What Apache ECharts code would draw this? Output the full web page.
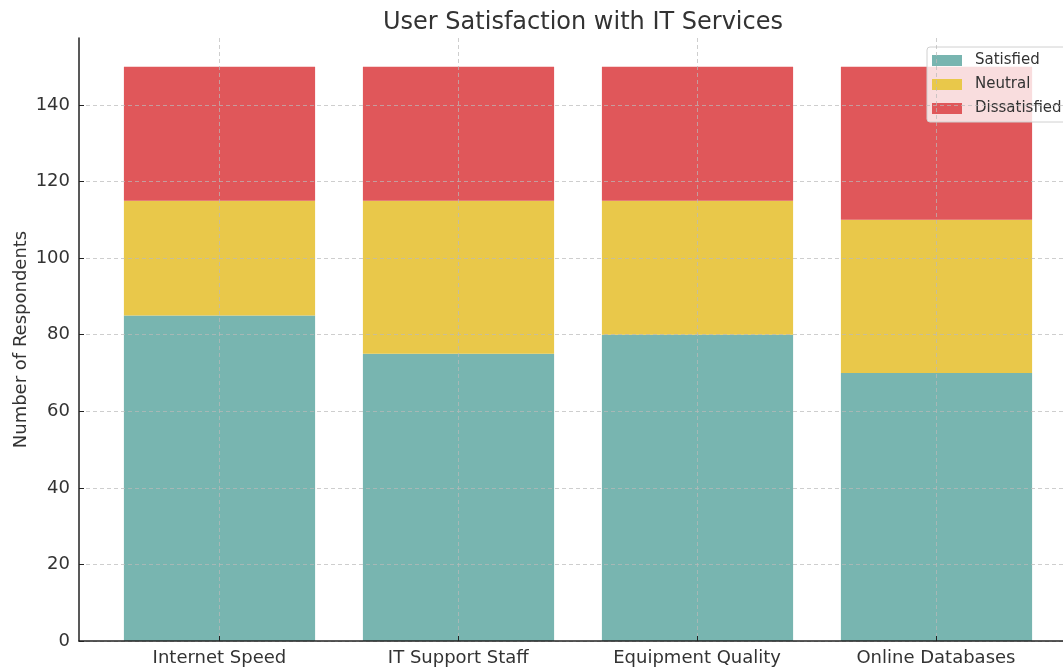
<!DOCTYPE html>
<html>
<head>
<meta charset="utf-8">
<title>User Satisfaction with IT Services</title>
<script src="https://cdn.jsdelivr.net/npm/echarts@6/dist/echarts.min.js"></script>
<style>
  html, body { margin: 0; padding: 0; background: #fff; }
  #chart { width: 1063px; height: 668px; }
</style>
</head>
<body>
<div id="chart"></div>
<script>
  // 数据
  var categories = ['Internet Speed', 'IT Support Staff', 'Equipment Quality', 'Online Databases'];
  var satisfied = [85, 75, 80, 70];
  var neutral = [30, 40, 35, 40];
  var dissatisfied = [35, 35, 35, 40];
  var yTicks = [0, 20, 40, 60, 80, 100, 120, 140];
  var catPos = categories.map(function (c, i) { return i; });

  var FONT = 'DejaVu Sans';
  var Y_MAX = 157.5;
  var gridLine = { show: true, lineStyle: { color: 'rgba(185,185,185,0.7)', type: [4, 3], width: 1 } };

  function barSeries(name, values, color) {
    return {
      name: name,
      type: 'bar',
      stack: 'total',
      xAxisIndex: 1,
      yAxisIndex: 1,
      barWidth: '80%',
      itemStyle: { color: color },
      emphasis: { disabled: true },
      data: values
    };
  }

  var myChart = echarts.init(document.getElementById('chart'));
  myChart.setOption({
    animation: false,
    textStyle: { fontFamily: FONT },
    title: {
      text: 'User Satisfaction with IT Services',
      left: 578,
      textAlign: 'center',
      top: 6,
      textStyle: { fontFamily: FONT, fontSize: 24, fontWeight: 'normal', color: '#333' }
    },
    legend: {
      orient: 'vertical',
      left: 927,
      top: 47,
      padding: [6, 8, 6, 5],
      itemWidth: 30,
      itemHeight: 11,
      itemGap: 9,
      icon: 'rect',
      backgroundColor: 'rgba(255,255,255,0.8)',
      borderColor: '#d0d0d0',
      borderWidth: 1,
      borderRadius: 3,
      textStyle: { fontFamily: FONT, fontSize: 15, color: '#333', padding: [0, 0, 0, 8] },
      data: ['Satisfied', 'Neutral', 'Dissatisfied']
    },
    // 第一个 grid 画坐标轴，第二个 grid 画柱子
    grid: [
      { left: 79, right: 0, top: 38, bottom: 27 },
      { left: 100, width: 956, top: 38, bottom: 27 }
    ],
    xAxis: [
      {
        type: 'value',
        gridIndex: 0,
        min: -0.588,
        max: 3.532,
        z: 5,
        axisLine: { show: true, onZero: false, lineStyle: { color: '#222', width: 1.5 } },
        axisTick: { show: true, inside: true, length: 5, customValues: catPos, lineStyle: { color: '#222' } },
        axisLabel: {
          customValues: catPos,
          margin: 8,
          fontFamily: FONT,
          fontSize: 18,
          color: '#333',
          formatter: function (v) { return categories[Math.round(v)]; }
        },
        splitLine: gridLine
      },
      {
        type: 'category',
        gridIndex: 1,
        data: categories,
        show: false
      }
    ],
    yAxis: [
      {
        type: 'value',
        gridIndex: 0,
        min: 0,
        max: Y_MAX,
        z: 5,
        name: 'Number of Respondents',
        nameLocation: 'middle',
        nameGap: 49,
        nameMoveOverlap: false,
        nameTextStyle: { fontFamily: FONT, fontSize: 18, color: '#333' },
        axisLine: { show: true, onZero: false, lineStyle: { color: '#222', width: 1.5 } },
        axisTick: { show: true, inside: true, length: 5, customValues: yTicks, lineStyle: { color: '#222' } },
        axisLabel: { customValues: yTicks, margin: 9, fontFamily: FONT, fontSize: 18, color: '#333' },
        splitLine: gridLine
      },
      {
        type: 'value',
        gridIndex: 1,
        min: 0,
        max: Y_MAX,
        show: false,
        splitLine: { show: false }
      }
    ],
    series: [
      barSeries('Satisfied', satisfied, '#78b5b0'),
      barSeries('Neutral', neutral, '#e9c84a'),
      barSeries('Dissatisfied', dissatisfied, '#e0575a')
    ]
  });
</script>
</body>
</html>
